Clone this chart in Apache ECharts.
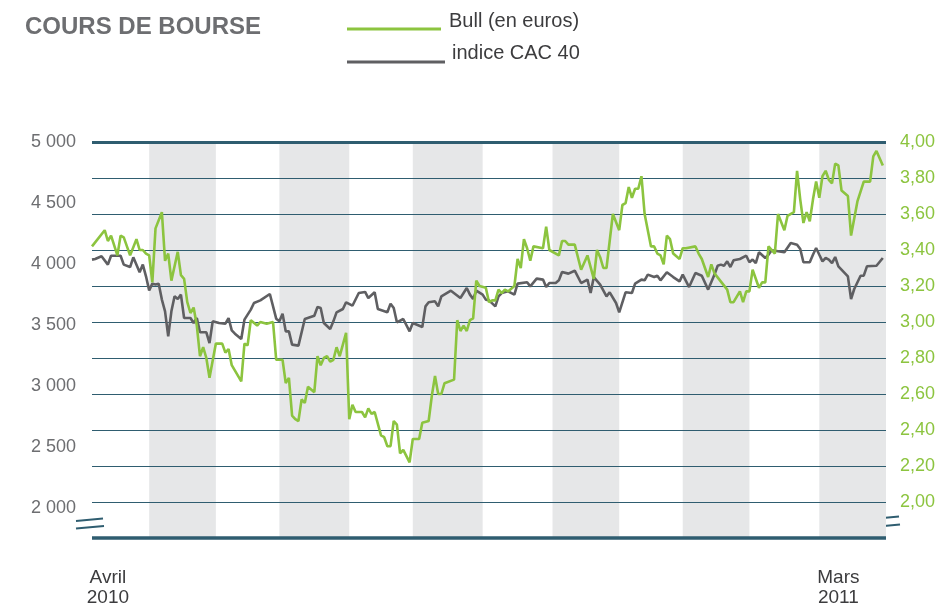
<!DOCTYPE html>
<html>
<head>
<meta charset="utf-8">
<title>Cours de bourse</title>
<script src="https://cdn.jsdelivr.net/npm/echarts@6.0.0/dist/echarts.min.js"></script>
<style>
  html, body { margin: 0; padding: 0; background: #fff; }
  #myChart { width: 944px; height: 613px; }
</style>
</head>
<body>
<div id="myChart"></div>
<script>
// abscisses en séances de bourse : 0 = début avril 2010, 250 = fin mars 2011
var bullDays = [0, 4, 5, 6, 8, 9, 10, 12, 14, 15, 16, 17, 18, 19, 20, 22, 23, 24, 25, 27, 28, 29, 30, 31, 32, 33, 34, 35, 36, 37,
  39, 41, 42, 43, 44, 47, 48, 49, 50, 52, 53, 55, 57, 58, 60, 61, 62, 63, 64, 65, 66, 67, 68, 70, 71, 72, 73, 74, 75, 76,
  77, 78, 80, 81, 82, 83, 85, 86, 87, 88, 89, 91, 92, 93, 94, 95, 96, 97, 98, 100, 101, 103, 104, 106, 107, 108, 109, 110, 111, 114,
  115, 116, 117, 118, 119, 120, 121, 122, 124, 125, 126, 127, 128, 129, 130, 131, 133, 134, 135, 136, 137, 138, 139, 142, 143, 144, 147, 148, 149, 150,
  152, 154, 156, 158, 159, 160, 161, 162, 164, 166, 167, 168, 169, 170, 171, 172, 173, 174, 176, 177, 178, 179, 180, 181, 182, 183, 185, 186, 187, 190,
  191, 192, 194, 195, 196, 200, 201, 202, 204, 205, 206, 207, 208, 210, 211, 212, 213, 215, 216, 218, 219, 221, 222, 223, 224, 225, 226, 227, 228, 229,
  230, 231, 232, 233, 234, 235, 236, 238, 239, 241, 243, 245, 246, 247, 249];
var bullValues = [3.42, 3.51, 3.45, 3.48, 3.37, 3.48, 3.47, 3.37, 3.46, 3.40, 3.40, 3.38, 3.37, 3.22, 3.52, 3.61, 3.34, 3.38, 3.23, 3.39, 3.26, 3.24, 3.11, 3.05, 3.08, 2.98, 2.81, 2.86, 2.80, 2.69,
  2.88, 2.88, 2.83, 2.85, 2.76, 2.67, 2.88, 2.87, 3.01, 2.98, 3.00, 2.99, 3.00, 2.79, 2.79, 2.66, 2.69, 2.48, 2.46, 2.45, 2.57, 2.55, 2.64, 2.61, 2.81, 2.76, 2.80, 2.81, 2.78, 2.79,
  2.86, 2.81, 2.94, 2.46, 2.54, 2.50, 2.50, 2.47, 2.52, 2.49, 2.50, 2.37, 2.36, 2.31, 2.31, 2.45, 2.43, 2.27, 2.29, 2.22, 2.35, 2.35, 2.44, 2.45, 2.59, 2.70, 2.60, 2.60, 2.66, 2.68,
  3.01, 2.95, 2.98, 2.95, 3.01, 3.02, 3.23, 3.20, 3.19, 3.11, 3.12, 3.12, 3.18, 3.16, 3.18, 3.17, 3.20, 3.35, 3.30, 3.46, 3.41, 3.34, 3.42, 3.41, 3.53, 3.40, 3.37, 3.45, 3.45, 3.43,
  3.43, 3.29, 3.37, 3.24, 3.40, 3.36, 3.30, 3.30, 3.60, 3.51, 3.65, 3.66, 3.75, 3.69, 3.74, 3.74, 3.81, 3.60, 3.42, 3.42, 3.38, 3.37, 3.32, 3.48, 3.46, 3.38, 3.35, 3.41, 3.41, 3.42,
  3.38, 3.35, 3.25, 3.32, 3.27, 3.18, 3.11, 3.11, 3.17, 3.11, 3.17, 3.17, 3.29, 3.19, 3.22, 3.22, 3.42, 3.38, 3.60, 3.51, 3.59, 3.61, 3.84, 3.68, 3.55, 3.61, 3.56, 3.68, 3.78, 3.69,
  3.81, 3.84, 3.79, 3.77, 3.88, 3.87, 3.73, 3.70, 3.48, 3.67, 3.78, 3.78, 3.92, 3.95, 3.87];

var cacDays = [0, 1, 3, 5, 6, 7, 9, 10, 12, 13, 15, 16, 17, 18, 19, 20, 21, 22, 23, 24, 25, 26, 27, 28, 29, 31, 32, 33, 34, 36,
  37, 38, 40, 42, 43, 44, 45, 47, 48, 50, 51, 53, 56, 58, 59, 60, 61, 62, 63, 65, 67, 70, 71, 72, 73, 75, 76, 77, 79, 80,
  82, 84, 86, 87, 89, 90, 93, 94, 95, 96, 98, 100, 101, 104, 105, 106, 108, 109, 110, 113, 116, 118, 119, 120, 121, 123, 124, 125, 127, 128,
  129, 131, 133, 134, 137, 138, 140, 142, 143, 144, 146, 147, 148, 150, 152, 154, 156, 157, 158, 160, 162, 163, 165, 166, 168, 170, 171, 173, 174, 175,
  177, 178, 179, 181, 183, 185, 186, 188, 190, 192, 194, 196, 197, 198, 199, 200, 201, 202, 204, 206, 207, 208, 209, 210, 212, 213, 214, 216, 218, 220,
  222, 223, 224, 226, 227, 228, 229, 230, 231, 232, 233, 234, 235, 238, 239, 240, 242, 243, 244, 247, 249];
var cacValues = [4036, 4041, 4063, 3995, 4068, 4068, 4068, 3995, 3975, 4055, 3932, 3995, 3899, 3784, 3839, 3831, 3839, 3708, 3612, 3407, 3612, 3735, 3713, 3749, 3557, 3557, 3516, 3557, 3440, 3440,
  3352, 3530, 3516, 3511, 3557, 3456, 3429, 3385, 3544, 3626, 3680, 3702, 3754, 3552, 3530, 3593, 3448, 3448, 3339, 3331, 3549, 3576, 3648, 3639, 3516, 3467, 3530, 3604, 3631, 3686,
  3658, 3762, 3771, 3721, 3768, 3631, 3604, 3675, 3639, 3522, 3549, 3448, 3516, 3484, 3653, 3686, 3694, 3653, 3735, 3781, 3721, 3803, 3749, 3713, 3781, 3749, 3708, 3702, 3653, 3735,
  3762, 3776, 3749, 3839, 3850, 3817, 3880, 3872, 3811, 3844, 3844, 3866, 3934, 3921, 3945, 3844, 3872, 3762, 3893, 3831, 3735, 3768, 3680, 3604, 3768, 3762, 3839, 3872, 3866, 3913,
  3893, 3904, 3866, 3932, 3893, 3858, 3913, 3811, 3926, 3904, 3790, 3913, 3986, 3995, 3986, 4022, 3975, 4030, 4041, 4068, 4014, 4036, 4008, 4096, 4049, 4076, 4112, 4104, 4096, 4172,
  4158, 4123, 4014, 4014, 4076, 4131, 4076, 4022, 4049, 4036, 4008, 4057, 3981, 3899, 3713, 3795, 3904, 3904, 3981, 3986, 4049];

// premier jour de chaque mois (avril 2010 .. mars 2011), en séances
var monthStarts = [0, 18, 39, 59, 81, 101, 123, 145, 166, 186, 207, 229, 250];
var cacTicks = [2000, 2500, 3000, 3500, 4000, 4500, 5000];
var bullTicks = [2.0, 2.2, 2.4, 2.6, 2.8, 3.0, 3.2, 3.4, 3.6, 3.8, 4.0];
var dateLabels = ["Avril\n2010", "Mars\n2011"];
var dateLabelDays = [5, 235];

var teal = "#2f5d70";
var green = "#8cc43f";
var grey = "#5f5f62";

function zip(days, values) {
  return days.map(function(d, i) {
    return [d, values[i]];
  });
}

// mois grisés : mai, juillet, septembre, novembre, janvier, mars
var bands = [];
for (var i = 1; i < 12; i += 2) {
  bands.push([{ xAxis: monthStarts[i] }, { xAxis: monthStarts[i + 1] }]);
}

var gridLines = bullTicks.map(function(v) {
  return { yAxis: v, lineStyle: { width: v === 4.0 ? 3 : 1 } };
});
gridLines.push({ yAxis: 1.8, lineStyle: { width: 3.5 } });

var myChart = echarts.init(document.getElementById("myChart"));
var option = {
  animation: false,
  title: {
    text: "COURS DE BOURSE",
    left: 20,
    top: 10,
    textStyle: {
      color: "#6d6e71",
      fontSize: 24,
      fontWeight: "bold",
      fontFamily: "Liberation Sans"
    }
  },
  grid: { left: 92, right: 58, top: 142, bottom: 75 },
  xAxis: {
    type: "value",
    min: 0,
    max: 250,
    axisLine: { show: false },
    axisTick: { show: false },
    splitLine: { show: false },
    axisLabel: {
      customValues: dateLabelDays,
      formatter: function(v) {
        return dateLabels[dateLabelDays.indexOf(v)];
      },
      margin: 30,
      color: "#3c3c3e",
      fontSize: 19,
      lineHeight: 20,
      fontFamily: "Liberation Sans"
    }
  },
  yAxis: [
    {
      type: "value",
      min: 1754,
      max: 5000,
      axisLine: { show: false },
      axisTick: { show: false },
      splitLine: { show: false },
      axisLabel: {
        customValues: cacTicks,
        formatter: function(v) {
          return String(v).replace(/\B(?=(\d{3})+(?!\d))/g, " ");
        },
        margin: 16,
        color: "#6d6e71",
        fontSize: 18,
        fontFamily: "Liberation Sans"
      }
    },
    {
      type: "value",
      min: 1.8,
      max: 4.0,
      position: "right",
      axisLine: { show: false },
      axisTick: { show: false },
      splitLine: { show: false },
      axisLabel: {
        customValues: bullTicks,
        formatter: function(v) {
          return v.toFixed(2).replace(".", ",");
        },
        margin: 14,
        color: green,
        fontSize: 18,
        fontFamily: "Liberation Sans"
      }
    }
  ],
  series: [
    {
      name: "indice CAC 40",
      type: "line",
      yAxisIndex: 0,
      data: zip(cacDays, cacValues),
      showSymbol: false,
      lineStyle: { color: grey, width: 2.6 },
      itemStyle: { color: grey },
      markArea: {
        silent: true,
        z: 1,
        itemStyle: { color: "#e6e7e8" },
        data: bands
      }
    },
    {
      name: "Bull (en euros)",
      type: "line",
      yAxisIndex: 1,
      data: zip(bullDays, bullValues),
      showSymbol: false,
      lineStyle: { color: green, width: 2.6 },
      itemStyle: { color: green },
      markLine: {
        silent: true,
        z: 1.5,
        symbol: "none",
        label: { show: false },
        lineStyle: { color: teal, type: "solid", width: 1 },
        data: gridLines
      }
    }
  ],
  graphic: [
    // légende
    { type: "line", shape: { x1: 347, y1: 29, x2: 441, y2: 29 }, style: { stroke: green, lineWidth: 3 } },
    { type: "text", x: 449, y: 21, style: { text: "Bull (en euros)", fill: "#3c3c3e", font: "20px 'Liberation Sans'", verticalAlign: "middle" } },
    { type: "line", shape: { x1: 347, y1: 62, x2: 445, y2: 62 }, style: { stroke: grey, lineWidth: 3 } },
    { type: "text", x: 452, y: 53, style: { text: "indice CAC 40", fill: "#3c3c3e", font: "20px 'Liberation Sans'", verticalAlign: "middle" } },
    // coupures d'axe
    { type: "line", shape: { x1: 76, y1: 521, x2: 103, y2: 518.5 }, style: { stroke: teal, lineWidth: 2 } },
    { type: "line", shape: { x1: 76, y1: 528.5, x2: 104, y2: 526 }, style: { stroke: teal, lineWidth: 2 } },
    { type: "line", shape: { x1: 872, y1: 519, x2: 899, y2: 516.5 }, style: { stroke: teal, lineWidth: 2 } },
    { type: "line", shape: { x1: 873, y1: 527, x2: 900, y2: 524.5 }, style: { stroke: teal, lineWidth: 2 } }
  ]
};
myChart.setOption(option);
</script>
</body>
</html>
